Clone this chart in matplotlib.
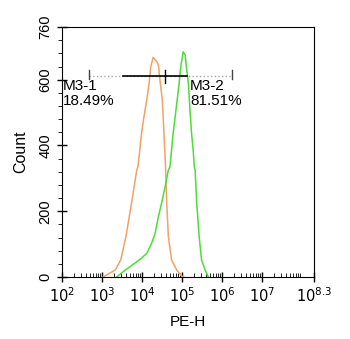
import numpy as np
import matplotlib
matplotlib.use("Agg")
import matplotlib.pyplot as plt

plt.rcParams['font.family'] = ['Liberation Sans', 'DejaVu Sans']

# histogram outlines, x in log10(PE-H), y in counts
ctrl_log = [3.03, 3.33, 3.47, 3.60, 3.74, 3.87, 3.90, 3.99, 4.05, 4.12, 4.18, 4.22, 4.28,
            4.37, 4.41, 4.45, 4.51, 4.55, 4.59, 4.62, 4.66, 4.74, 4.87, 4.99, 5.05]
ctrl_cnt = [0, 21, 52, 123, 225, 325, 335, 437, 487, 538, 590, 639, 668,
            655, 645, 599, 538, 437, 335, 224, 123, 52, 21, 3, 0]

pe_log = [3.37, 3.53, 3.70, 3.99, 4.12, 4.24, 4.33, 4.41, 4.49, 4.58, 4.66, 4.70, 4.74,
          4.78, 4.83, 4.88, 4.93, 4.97, 5.03, 5.08, 5.12, 5.16, 5.20, 5.24, 5.28, 5.31,
          5.33, 5.37, 5.43, 5.49, 5.58, 5.66]
pe_cnt = [0, 16, 31, 57, 72, 102, 133, 183, 224, 275, 325, 335, 386,
          437, 487, 538, 589, 639, 685, 675, 629, 589, 508, 437, 386, 335,
          325, 224, 123, 52, 21, 0]

xticks = [2, 3, 4, 5, 6, 7, 8.3]
xtick_labels = ['$10^{2}$', '$10^{3}$', '$10^{4}$', '$10^{5}$', '$10^{6}$', '$10^{7}$', '$10^{8.3}$']
yticks = [0, 200, 400, 600, 760]

# marker gate M3
gate_y = 611
gate_left, gate_mid, gate_right = 2.68, 4.58, 6.25
gate_solid = (3.53, 5.12)
gate_names = ['M3-1', 'M3-2']
gate_pcts = ['18.49%', '81.51%']

fig = plt.figure(figsize=(3.5, 3.39), dpi=100)
ax = fig.add_axes([0.177, 0.183, 0.72, 0.737])

ax.plot(ctrl_log, ctrl_cnt, color='#f2a263', lw=1.1)
ax.plot(pe_log, pe_cnt, color='#4ddc38', lw=1.1)

# gate bar
ax.plot([gate_left, gate_right], [gate_y, gate_y], color='#aaaaaa', lw=1, ls=':')
ax.plot(gate_solid, [gate_y, gate_y], color='black', lw=1.2)
for gx in (gate_left, gate_right):
    ax.plot([gx, gx], [gate_y - 8, gate_y + 20], color='#444444', lw=1)
ax.plot([gate_mid, gate_mid], [gate_y - 22, gate_y + 18], color='black', lw=1)

ax.text(2.03, gate_y - 10, gate_names[0] + '\n' + gate_pcts[0], fontsize=11,
        va='top', ha='left', linespacing=1.05)
ax.text(5.2, gate_y - 10, gate_names[1] + '\n' + gate_pcts[1], fontsize=11,
        va='top', ha='left', linespacing=1.05)

ax.set_xlim(2, 8.3)
ax.set_ylim(0, 760)
ax.set_xticks(xticks)
ax.set_xticklabels(xtick_labels, fontsize=10.5)
minor_x = [d + np.log10(k) for d in range(2, 9) for k in range(2, 10) if d + np.log10(k) < 8.3]
ax.set_xticks(minor_x, minor=True)
ax.set_yticks(yticks)
ax.set_yticklabels([str(v) for v in yticks], fontsize=10.5, rotation=90, va='center')
ax.set_yticks(np.arange(0, 761, 40), minor=True)

ax.tick_params(axis='x', which='major', direction='inout', length=7, width=1)
ax.tick_params(axis='x', which='minor', direction='in', length=3, width=0.6)
ax.tick_params(axis='y', which='major', direction='inout', length=7, width=1)
ax.tick_params(axis='y', which='minor', direction='out', length=3, width=0.6)

ax.set_xlabel('PE-H', fontsize=11, labelpad=7)
ax.set_ylabel('Count', fontsize=11.5, labelpad=7)

fig.savefig('out.png', dpi=100)
